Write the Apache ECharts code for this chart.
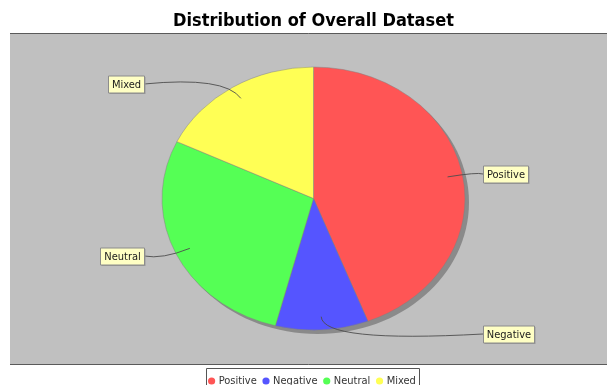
<!DOCTYPE html>
<html><head><meta charset="utf-8">
<script src="https://cdn.jsdelivr.net/npm/echarts@6/dist/echarts.min.js"></script>
<style>html,body{margin:0;padding:0;background:#fff}#c{width:607px;height:385px}</style>
</head><body><div id="c"></div>
<script>
const chartTitle = 'Distribution of Overall Dataset';
const categories = ['Positive', 'Negative', 'Neutral', 'Mixed'];
const values = [44.2, 9.9, 28.1, 17.9];
const colors = ['#ff5555', '#5555ff', '#55ff55', '#ffff55'];

const FONT = '"DejaVu Sans Condensed", "Liberation Sans", sans-serif';
const cx = 313.5, cy = 198.5, rx = 151.5, ry = 131.5;
const total = values.reduce((a, b) => a + b, 0);
const starts = [];
let acc = 0;
values.forEach(v => { starts.push(acc); acc += v; });

const mctx = document.createElement('canvas').getContext('2d');
function tw(text, font) { mctx.font = font; return mctx.measureText(text).width; }
const labelFont = '11px ' + FONT;
const legendFont = '11px ' + FONT;

function renderItem(params, api) {
  const i = params.dataIndex;
  const v = api.value(0);
  const a0 = -Math.PI / 2 + starts[i] / total * 2 * Math.PI;
  const a1 = a0 + v / total * 2 * Math.PI;
  const am = (a0 + a1) / 2;
  const dx = Math.cos(am), dy = Math.sin(am);
  const children = [];
  if (i === 0) {
    children.push({ type: 'ellipse', shape: { cx: cx + 4, cy: cy + 4, rx: rx, ry: ry }, style: { fill: '#8a8a8a' }, z2: 0 });
  }
  children.push({
    type: 'sector', x: cx, y: cy, scaleX: 1, scaleY: ry / rx,
    shape: { cx: 0, cy: 0, r: rx, r0: 0, startAngle: a0, endAngle: a1, clockwise: true },
    style: { fill: colors[i], stroke: '#808080', lineWidth: 0.5, strokeNoScale: true }, z2: 1
  });
  const name = categories[i];
  const w = tw(name, labelFont);
  const boxW = Math.round(w + 7), boxH = 17;
  const mid = Math.round(cy + 1.03 * ry * dy);
  const left = dx < 0;
  const boxX = left ? Math.round(cx - rx - 18) - boxW : Math.round(cx + rx + 18);
  const endX = left ? boxX + boxW : boxX;
  const sx = cx + 0.9 * rx * dx, sy = cy + 0.9 * ry * dy;
  const ex = cx + 1.1 * rx * dx, ey = cy + 1.1 * ry * dy;
  children.push({
    type: 'bezierCurve',
    shape: { x1: sx, y1: sy, x2: endX, y2: mid, cpx1: ex, cpy1: ey },
    style: { stroke: '#4d4d4d', lineWidth: 0.9, fill: null }, z2: 10
  });
  const by = mid - boxH / 2;
  children.push({ type: 'rect', shape: { x: boxX + 1.5, y: by + 1.5, width: boxW, height: boxH }, style: { fill: '#9a9a9a' }, z2: 11 });
  children.push({ type: 'rect', shape: { x: boxX + 0.5, y: by + 0.5, width: boxW, height: boxH }, style: { fill: '#ffffc4', stroke: '#8c8c8c', lineWidth: 1 }, z2: 12 });
  children.push({
    type: 'text', x: boxX + 0.5 + boxW / 2, y: by + 0.5 + boxH / 2 + 0.5,
    style: { text: name, font: labelFont, fill: '#1a1a1a', align: 'center', verticalAlign: 'middle' }, z2: 13
  });
  return { type: 'group', children: children };
}

// legend layout
const legendItems = [];
const widths = categories.map(c => tw(c, legendFont));
const legendW = widths.reduce((a, b) => a + b + 16.3, 0);
const lx0 = Math.round(313 - legendW / 2);
const ly = 368.5, lmid = 381.5;
legendItems.push({ type: 'rect', shape: { x: lx0 + 0.5, y: ly, width: Math.round(legendW), height: 30 }, style: { fill: '#fff', stroke: '#555', lineWidth: 1 } });
let cur = lx0;
categories.forEach((c, i) => {
  legendItems.push({ type: 'circle', shape: { cx: cur + 5.6, cy: lmid - 0.5, r: 3.6 }, style: { fill: colors[i] } });
  legendItems.push({ type: 'text', x: cur + 12.7, y: lmid, style: { text: c, font: legendFont, fill: '#333', align: 'left', verticalAlign: 'middle' } });
  cur += 16.3 + widths[i];
});

const chart = echarts.init(document.getElementById('c'), null, { renderer: 'canvas' });
chart.setOption({
  animation: false,
  backgroundColor: '#fff',
  graphic: [
    { type: 'rect', z: -10, shape: { x: 10, y: 33, width: 620, height: 332 }, style: { fill: '#c0c0c0' } },
    { type: 'line', z: -9, shape: { x1: 10, y1: 33.5, x2: 607, y2: 33.5 }, style: { stroke: '#5a5a5a', lineWidth: 1 } },
    { type: 'line', z: -9, shape: { x1: 10, y1: 364.5, x2: 607, y2: 364.5 }, style: { stroke: '#5a5a5a', lineWidth: 1 } },
    { type: 'text', z: 5, x: 313.5, y: 21.5, style: { text: chartTitle, font: 'bold 18px ' + FONT, fill: '#000', align: 'center', verticalAlign: 'middle' } },
    { type: 'group', z: 5, children: legendItems }
  ],
  series: [{
    type: 'custom',
    coordinateSystem: 'none',
    renderItem: renderItem,
    data: values.map(v => [v]),
    silent: true
  }]
});
</script></body></html>
